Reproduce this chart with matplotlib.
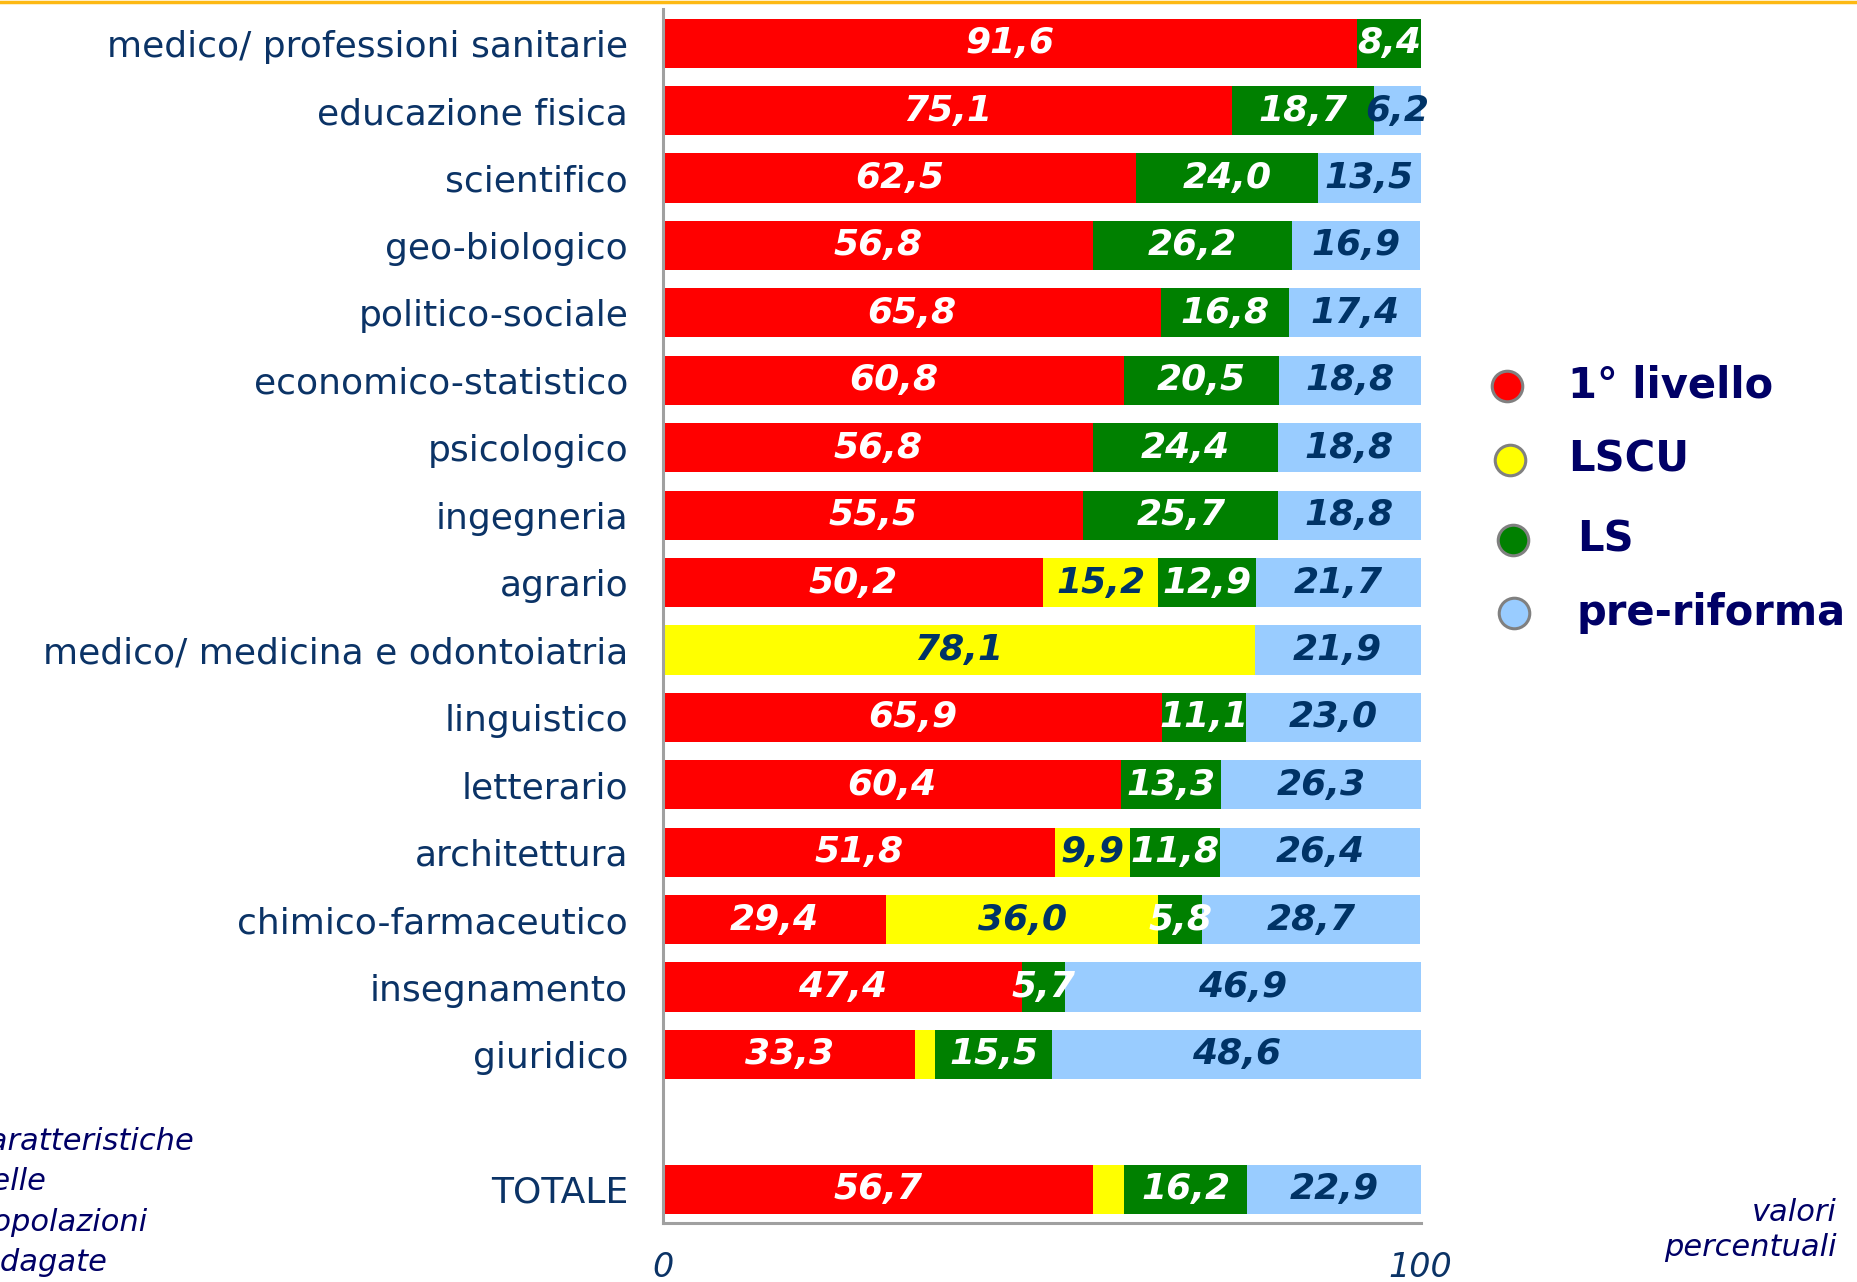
import numpy as np
import matplotlib.pyplot as plt
from matplotlib.lines import Line2D

# Dati (valori percentuali)
categorie = ['medico/ professioni sanitarie', 'educazione fisica', 'scientifico',
             'geo-biologico', 'politico-sociale', 'economico-statistico',
             'psicologico', 'ingegneria', 'agrario', 'medico/ medicina e odontoiatria',
             'linguistico', 'letterario', 'architettura', 'chimico-farmaceutico',
             'insegnamento', 'giuridico', 'TOTALE']
primo_livello = [91.6, 75.1, 62.5, 56.8, 65.8, 60.8, 56.8, 55.5, 50.2, 0.0,
                 65.9, 60.4, 51.8, 29.4, 47.4, 33.3, 56.7]
lscu = [0.0, 0.0, 0.0, 0.0, 0.0, 0.0, 0.0, 0.0, 15.2, 78.1,
        0.0, 0.0, 9.9, 36.0, 0.0, 2.6, 4.2]
ls = [8.4, 18.7, 24.0, 26.2, 16.8, 20.5, 24.4, 25.7, 12.9, 0.0,
      11.1, 13.3, 11.8, 5.8, 5.7, 15.5, 16.2]
pre_riforma = [0.0, 6.2, 13.5, 16.9, 17.4, 18.8, 18.8, 18.8, 21.7, 21.9,
               23.0, 26.3, 26.4, 28.7, 46.9, 48.6, 22.9]

serie = ['1° livello', 'LSCU', 'LS', 'pre-riforma']
valori = [primo_livello, lscu, ls, pre_riforma]
colori = ['#FF0000', '#FFFF00', '#008000', '#99CCFF']
col_testo = ['white', '#003366', 'white', '#003366']

blu = '#0B3366'
blu_scuro = '#000066'

# posizioni: una riga vuota prima del totale
pos = np.array(list(range(16)) + [17])

fig = plt.figure(figsize=(18.57, 12.82), dpi=100)
ax = fig.add_axes([0.357, 0.046, 0.408, 0.9466])

sinistra = np.zeros(len(categorie))
for nome, v, c, ct in zip(serie, valori, colori, col_testo):
    v = np.array(v)
    barre = ax.barh(pos, v, left=sinistra, height=0.73, color=c, linewidth=0)
    etichette = [f'{x:.1f}'.replace('.', ',') if x >= 5 else '' for x in v]
    ax.bar_label(barre, labels=etichette, label_type='center', color=ct,
                 fontsize=26, fontweight='bold', fontstyle='italic')
    sinistra += v

ax.set_xlim(0, 100)
ax.set_ylim(17.5, -0.5)
ax.set_yticks(pos)
ax.set_yticklabels(categorie, fontsize=26, color=blu)
ax.set_xticks([0, 100])
ax.set_xticklabels(['0', '100'], fontsize=24, color=blu, fontstyle='italic')
ax.tick_params(axis='y', length=0, pad=25)
ax.tick_params(axis='x', length=0, pad=20)
for s in ['top', 'right']:
    ax.spines[s].set_visible(False)
for s in ['left', 'bottom']:
    ax.spines[s].set_color('#A0A0A0')
    ax.spines[s].set_linewidth(2.2)

# linea arancione in alto
fig.add_artist(Line2D([0, 1], [1 - 1.5 / 1282] * 2, transform=fig.transFigure,
                      color='#FDB913', linewidth=2.5))

# legenda manuale
leg_y = [386, 460, 540, 613]
leg_mx = [1507, 1510, 1513, 1514]
leg_tx = [1568, 1568, 1577, 1577]
for nome, c, y, mx, tx in zip(serie, colori, leg_y, leg_mx, leg_tx):
    fig.add_artist(Line2D([mx / 1857], [1 - y / 1282], transform=fig.transFigure,
                          marker='o', markersize=22, markerfacecolor=c,
                          markeredgecolor='#808080', markeredgewidth=2.2))
    fig.text(tx / 1857, 1 - y / 1282, nome, fontsize=30, fontweight='bold',
             color=blu_scuro, va='center', ha='left')

# note (il testo a sinistra e' tagliato dal bordo come nell'originale)
fig.text(-27 / 1857, 1 - 1202 / 1282, 'caratteristiche\ndelle\npopolazioni\nindagate',
         fontsize=22, fontstyle='italic', color=blu_scuro, ha='left', va='center',
         linespacing=1.5)
fig.text(1837 / 1857, 1 - 1230 / 1282, 'valori\npercentuali', fontsize=22,
         fontstyle='italic', color=blu_scuro, ha='right', va='center',
         linespacing=1.3, multialignment='right')

fig.savefig('out.png', dpi=100)
